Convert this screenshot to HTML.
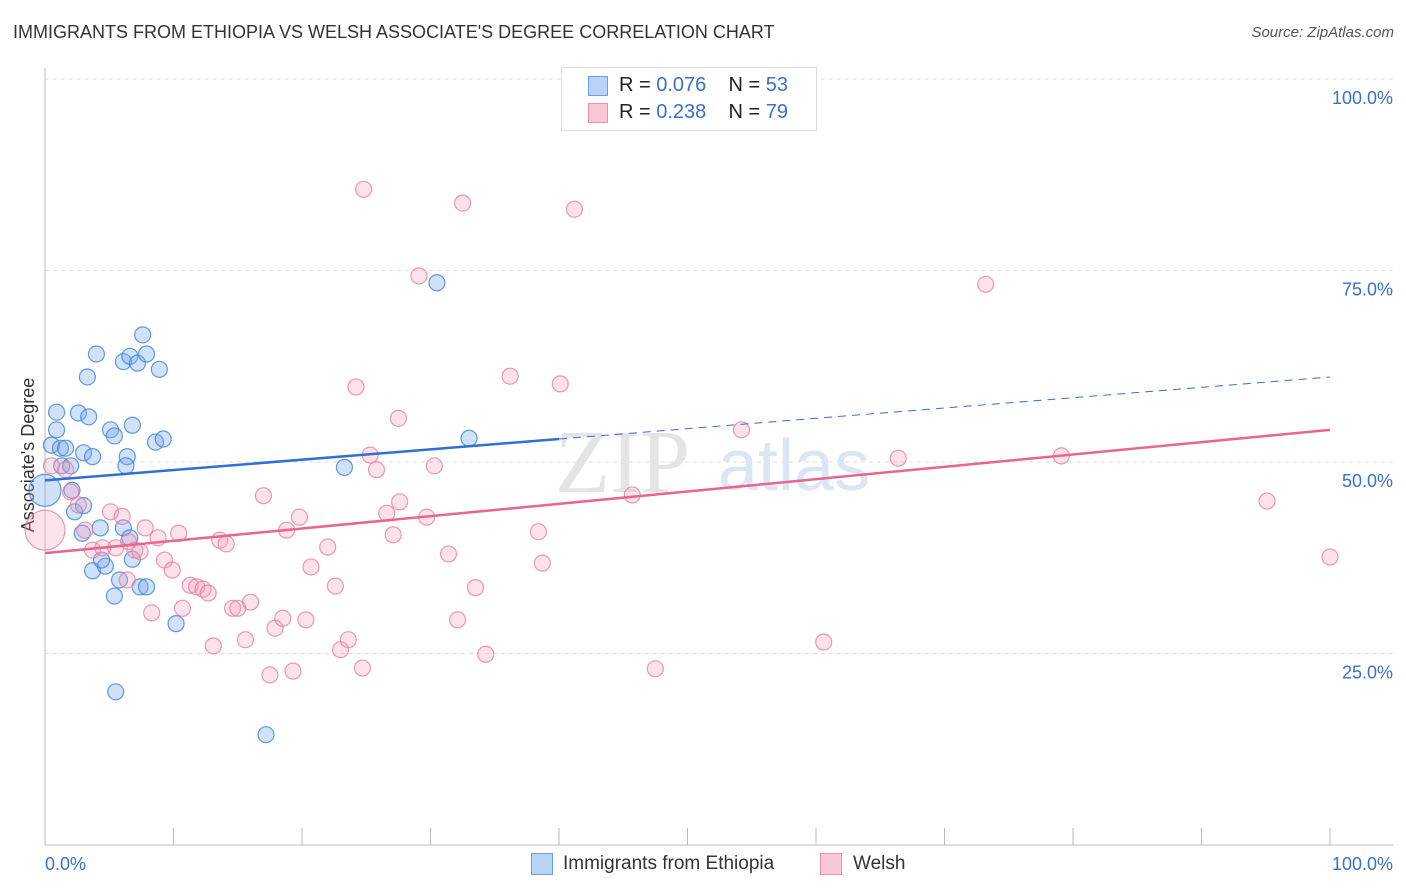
<!DOCTYPE html>
<html><head><meta charset="utf-8"><style>
body{margin:0;background:#fff;font-family:"Liberation Sans",sans-serif;}
#wrap{position:relative;width:1406px;height:892px;overflow:hidden;}
.t{position:absolute;white-space:nowrap;}
</style></head><body>
<div id="wrap">
<div class="t" style="left:13px;top:22px;font-size:18px;color:#333;">IMMIGRANTS FROM ETHIOPIA VS WELSH ASSOCIATE'S DEGREE CORRELATION CHART</div>
<div class="t" style="right:12px;top:24px;font-size:15px;color:#555;font-style:italic;">Source: ZipAtlas.com</div>
<svg id="plot" width="1406" height="892" style="position:absolute;left:0;top:0"></svg>
</div>
<script>
const NS="http://www.w3.org/2000/svg";
const svg=document.getElementById('plot');
const blueX=[0.9,0.9,0.5,1.2,1.6,1.3,2.0,0,2.1,2.3,3.0,2.9,3.3,4.0,2.6,3.4,3.0,3.7,5.1,5.4,6.8,6.1,6.6,7.2,7.9,7.6,8.9,6.4,6.3,8.6,9.2,3.7,4.7,4.3,6.1,6.6,6.8,5.8,5.4,7.4,7.9,10.2,5.5,17.2,23.3,30.5,33.0,4.4];
const blueY=[56.5,54.2,52.2,51.8,51.8,49.5,49.5,46.3,46.3,43.5,44.3,40.7,61.1,64.1,56.4,55.9,51.2,50.7,54.2,53.4,54.8,63.1,63.8,62.9,64.1,66.6,62.1,50.7,49.5,52.6,53.0,35.8,36.4,41.4,41.4,40.1,37.3,34.6,32.5,33.7,33.7,28.9,20.0,14.4,49.3,73.4,53.1,37.2];
const blueSize=[1,1,1,1,1,1,1,2,1,1,1,1,1,1,1,1,1,1,1,1,1,1,1,1,1,1,1,1,1,1,1,1,1,1,1,1,1,1,1,1,1,1,1,1,1,1,1,1];
const pinkX=[0,0.5,1.6,2.0,2.6,3.1,3.7,4.5,5.1,6.0,6.5,5.5,6.4,7.0,7.4,7.8,8.3,8.8,9.3,9.9,10.4,10.7,11.3,11.8,12.3,12.7,13.1,13.6,14.1,14.6,15.0,15.6,16.0,17.0,17.5,17.9,18.5,18.8,19.3,19.8,20.3,20.7,22.0,22.6,23.0,23.6,24.2,24.7,24.8,25.3,25.8,26.6,27.1,27.5,27.6,29.1,29.7,30.3,31.4,32.1,32.5,33.5,34.3,36.2,38.4,38.7,40.1,41.2,45.7,47.5,54.2,60.6,66.4,73.2,79.1,95.1,100];
const pinkY=[41.1,49.5,49.0,46.1,44.4,41.1,38.5,38.8,43.5,42.9,39.6,38.8,34.6,38.5,38.3,41.4,30.3,40.1,37.2,35.9,40.7,30.9,33.9,33.7,33.4,32.9,26.0,39.8,39.3,30.9,30.9,26.8,31.7,45.6,22.2,28.3,29.6,41.1,22.7,42.8,29.4,36.3,38.9,33.8,25.5,26.8,59.8,23.1,85.6,50.9,49.0,43.3,40.5,55.7,44.8,74.3,42.8,49.5,38.0,29.4,83.8,33.6,24.9,61.2,40.9,36.8,60.2,83.0,45.7,23.0,54.2,26.5,50.5,73.2,50.8,44.9,37.6];
const pinkSize=pinkX.map((v,i)=>i===0?2.5:1);
const blueTrend=[47.6,61.1];
const pinkTrend=[38.1,54.2];
const yTicks=[25,50,75,100];
const yTickLabels=["25.0%","50.0%","75.0%","100.0%"];
const X=v=>45+v*12.85;
const Y=v=>845-v*7.66;
function mk(tag,attrs,parent){const e=document.createElementNS(NS,tag);for(const k in attrs)e.setAttribute(k,attrs[k]);(parent||svg).appendChild(e);return e;}
// grid
yTicks.forEach((t,i)=>{
 const g=mk('line',{x1:45,x2:1393,y1:Y(t),y2:Y(t),stroke:'#ddd','stroke-dasharray':'4,4'});
 
 
 const tx=mk('text',{x:1393,y:Y(t)+25,'text-anchor':'end','font-size':18,fill:'#3a6fd0','font-family':'Liberation Sans'});
 tx.textContent=yTickLabels[i];
 
 
});
// axes
mk('line',{x1:45,x2:45,y1:68,y2:845,stroke:'#bbb'});
mk('line',{x1:45,x2:1393,y1:845,y2:845,stroke:'#bbb'});
for(let i=0;i<=10;i++){const tk=mk('line',{x1:X(i*10),x2:X(i*10),y1:828,y2:845,stroke:'#bbb'});

}
const xl0=mk('text',{x:45,y:870,'font-size':18,fill:'#3a6fd0'});xl0.textContent='0.0%';


const xl1=mk('text',{x:1393,y:870,'font-size':18,fill:'#3a6fd0','text-anchor':'end'});xl1.textContent='100.0%';


const yt=mk('text',{x:0,y:0,'font-size':18,fill:'#333',transform:'translate(34,455) rotate(-90)','text-anchor':'middle'});yt.textContent="Associate's Degree";


// watermark
const wm=mk('text',{x:555,y:492,'font-size':90,fill:'#e4e4e4','font-family':'Liberation Serif'});wm.textContent='ZIP';


const wm2=mk('text',{x:718,y:490,'font-size':72,fill:'#dbe6f5'});wm2.textContent='atlas';


// points
blueX.forEach((v,i)=>{const c=mk('circle',{cx:X(v),cy:Y(blueY[i]),r:8*blueSize[i],fill:'rgba(120,170,235,0.35)',stroke:'rgba(60,130,220,0.8)','stroke-width':1.2});

});
pinkX.forEach((v,i)=>{const c=mk('circle',{cx:X(v),cy:Y(pinkY[i]),r:8*pinkSize[i],fill:'rgba(245,160,185,0.3)',stroke:'rgba(230,120,155,0.75)','stroke-width':1.2});

});
// trends
const bAt=p=>blueTrend[0]+(blueTrend[1]-blueTrend[0])*p/100;
const pAt=p=>pinkTrend[0]+(pinkTrend[1]-pinkTrend[0])*p/100;
const bl=mk('line',{x1:X(0),y1:Y(bAt(0)),x2:X(40),y2:Y(bAt(40)),stroke:'#2f6fd6','stroke-width':2.5});


const bd=mk('line',{x1:X(40),y1:Y(bAt(40)),x2:X(100),y2:Y(bAt(100)),stroke:'#2f6fd6','stroke-width':1,'stroke-dasharray':'8,6'});


const pl=mk('line',{x1:X(0),y1:Y(pAt(0)),x2:X(100),y2:Y(pAt(100)),stroke:'#e8658e','stroke-width':2.5});


</script>
<div class="t" style="left:561px;top:67px;width:254px;height:62px;border:1px solid #ddd;background:#fff;">
 <div style="position:absolute;left:26px;top:8px;width:20px;height:20px;background:#b8d3f5;border:1px solid #6d9fe0;box-sizing:border-box"></div>
 <div style="position:absolute;left:26px;top:35px;width:20px;height:20px;background:#f9c6d5;border:1px solid #ea8fac;box-sizing:border-box"></div>
 <div class="t" style="left:57px;top:6px;font-size:20px;color:#222">R = <span style="color:#3a6fd0">0.076</span>&nbsp;&nbsp;&nbsp; N = <span style="color:#3a6fd0">53</span></div>
 <div class="t" style="left:57px;top:33px;font-size:20px;color:#222">R = <span style="color:#3a6fd0">0.238</span>&nbsp;&nbsp;&nbsp; N = <span style="color:#3a6fd0">79</span></div>
</div>
<div class="t" style="left:531px;top:853px;width:22px;height:22px;background:#b8d3f5;border:1px solid #6d9fe0;box-sizing:border-box"></div>
<div class="t" style="left:563px;top:853px;font-size:19px;color:#333">Immigrants from Ethiopia</div>
<div class="t" style="left:820px;top:853px;width:22px;height:22px;background:#f9c6d5;border:1px solid #ea8fac;box-sizing:border-box"></div>
<div class="t" style="left:853px;top:853px;font-size:19px;color:#333">Welsh</div>
</body></html>
